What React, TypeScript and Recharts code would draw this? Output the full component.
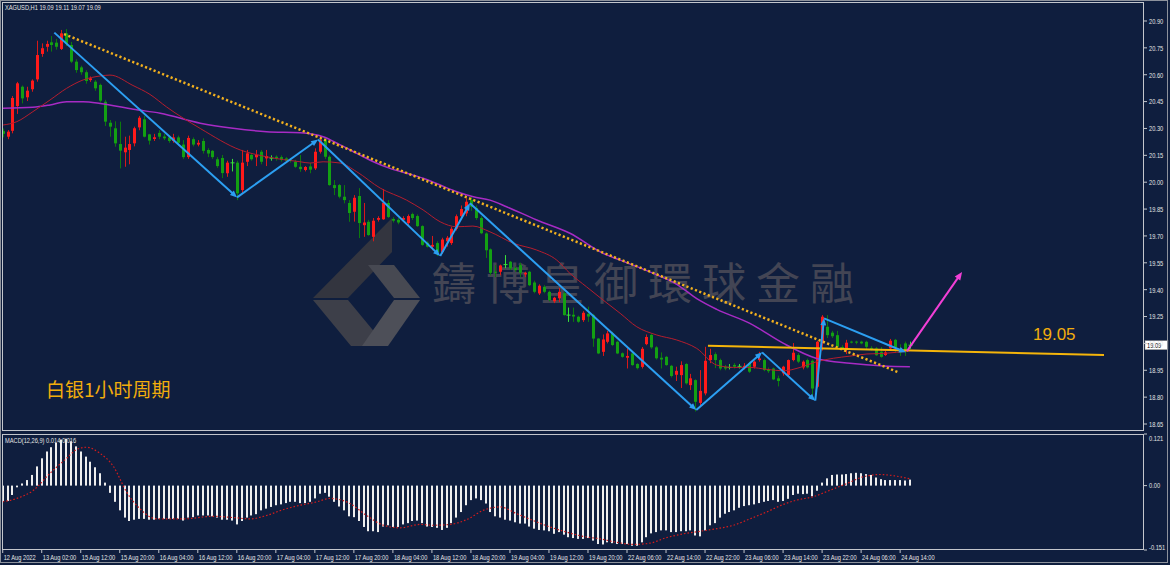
import React from 'react';
import { ComposedChart, Bar, Line, XAxis, YAxis, ReferenceLine } from 'recharts';

// ---------- data ----------
const OPEN = [20.285,20.254,20.287,20.425,20.533,20.474,20.519,20.574,20.716,20.756,20.781,20.779,20.744,20.831,20.766,20.673,20.641,20.614,20.570,20.561,20.543,20.449,20.332,20.301,20.213,20.167,20.180,20.217,20.306,20.351,20.267,20.241,20.275,20.255,20.250,20.230,20.250,20.210,20.140,20.240,20.210,20.230,20.180,20.175,20.128,20.135,20.050,20.108,20.109,19.956,20.114,20.152,20.139,20.170,20.133,20.134,20.142,20.140,20.133,20.125,20.114,20.086,20.068,20.088,20.077,20.170,20.235,20.142,19.984,19.984,19.919,19.884,19.835,19.923,19.760,19.779,19.695,19.790,19.793,19.884,19.795,19.790,19.790,19.772,19.822,19.811,19.755,19.662,19.640,19.660,19.610,19.670,19.660,19.740,19.810,19.826,19.900,19.856,19.800,19.714,19.625,19.500,19.500,19.540,19.556,19.520,19.537,19.485,19.500,19.440,19.379,19.416,19.388,19.335,19.352,19.380,19.258,19.260,19.249,19.230,19.265,19.258,19.127,19.053,19.109,19.156,19.109,19.045,19.020,19.044,18.985,18.969,19.096,19.147,19.078,19.020,19.025,18.975,18.925,18.923,18.985,18.867,18.895,18.768,18.821,19.007,19.040,19.007,18.970,18.966,18.980,18.972,18.965,18.990,18.970,19.007,19.007,18.955,18.960,18.905,18.933,18.923,19.007,19.035,18.966,19.007,19.003,18.858,19.100,19.193,19.160,19.146,19.080,19.063,19.110,19.110,19.110,19.109,19.075,19.072,19.053,19.035,19.072,19.120,19.060,19.100,19.090];
const HIGH = [20.300,20.291,20.481,20.560,20.540,20.533,20.574,20.790,20.775,20.790,20.816,20.800,20.850,20.855,20.783,20.686,20.650,20.625,20.590,20.570,20.550,20.460,20.347,20.340,20.338,20.254,20.260,20.310,20.370,20.370,20.270,20.270,20.290,20.270,20.260,20.270,20.260,20.235,20.260,20.250,20.235,20.245,20.190,20.180,20.140,20.152,20.120,20.130,20.120,20.180,20.180,20.160,20.180,20.180,20.180,20.150,20.150,20.150,20.140,20.135,20.125,20.152,20.090,20.107,20.189,20.258,20.250,20.150,20.012,19.990,19.984,19.900,19.928,19.967,19.884,19.790,19.800,19.810,19.962,19.900,19.805,19.800,19.810,19.820,19.830,19.820,19.760,19.670,19.700,19.670,19.690,19.700,19.750,19.820,19.870,19.910,19.919,19.870,19.810,19.720,19.630,19.537,19.540,19.593,19.560,19.530,19.550,19.500,19.505,19.450,19.430,19.425,19.395,19.360,19.410,19.390,19.300,19.300,19.255,19.280,19.305,19.265,19.130,19.150,19.170,19.165,19.115,19.050,19.072,19.050,18.990,19.080,19.150,19.155,19.085,19.050,19.030,18.980,18.970,19.000,18.990,18.930,18.900,18.951,19.081,19.070,19.050,19.015,18.980,18.985,18.990,18.985,18.990,18.998,19.005,19.053,19.015,18.965,18.965,18.920,18.975,19.010,19.102,19.045,19.005,19.015,19.010,19.115,19.258,19.258,19.170,19.170,19.090,19.120,19.115,19.115,19.115,19.115,19.085,19.080,19.080,19.060,19.125,19.125,19.095,19.110,19.110];
const LOW = [20.250,20.240,20.273,20.381,20.440,20.453,20.505,20.561,20.700,20.729,20.729,20.740,20.738,20.760,20.665,20.611,20.600,20.550,20.560,20.510,20.445,20.314,20.254,20.198,20.077,20.086,20.100,20.200,20.290,20.250,20.210,20.230,20.240,20.235,20.220,20.220,20.210,20.130,20.130,20.200,20.200,20.160,20.140,20.130,20.080,20.023,20.030,20.060,19.900,19.940,20.090,20.120,20.090,20.100,20.090,20.120,20.120,20.115,20.110,20.110,20.080,20.058,20.060,20.050,20.068,20.160,20.130,19.980,19.928,19.910,19.882,19.779,19.780,19.688,19.695,19.700,19.670,19.780,19.790,19.800,19.775,19.765,19.780,19.760,19.789,19.750,19.645,19.635,19.620,19.588,19.600,19.640,19.650,19.730,19.800,19.810,19.840,19.790,19.710,19.577,19.480,19.470,19.480,19.520,19.510,19.500,19.470,19.470,19.420,19.380,19.370,19.380,19.335,19.325,19.330,19.255,19.220,19.220,19.215,19.220,19.220,19.081,19.040,19.030,19.100,19.085,19.040,19.020,18.960,18.975,18.955,18.960,19.090,19.070,19.010,18.960,18.975,18.910,18.890,18.851,18.870,18.840,18.720,18.750,18.810,18.990,18.962,18.950,18.950,18.955,18.960,18.960,18.955,18.935,18.960,18.998,18.945,18.935,18.895,18.860,18.920,18.915,19.000,18.990,18.955,18.960,18.810,18.850,19.060,19.130,19.130,19.070,19.065,19.040,19.100,19.095,19.095,19.065,19.060,19.030,19.020,19.030,19.065,19.050,19.030,19.030,19.070];
const CLOSE = [20.270,20.282,20.470,20.552,20.468,20.511,20.567,20.710,20.748,20.772,20.766,20.756,20.831,20.772,20.673,20.626,20.614,20.565,20.580,20.524,20.455,20.338,20.310,20.217,20.176,20.193,20.213,20.301,20.360,20.254,20.232,20.251,20.254,20.245,20.230,20.250,20.220,20.140,20.247,20.210,20.220,20.175,20.160,20.140,20.090,20.051,20.109,20.108,19.938,20.109,20.161,20.128,20.152,20.114,20.146,20.134,20.133,20.125,20.120,20.120,20.086,20.073,20.085,20.070,20.170,20.235,20.142,19.984,19.967,19.919,19.900,19.828,19.913,19.772,19.775,19.705,19.785,19.800,19.885,19.806,19.785,19.775,19.800,19.811,19.800,19.755,19.650,19.640,19.650,19.610,19.680,19.690,19.740,19.810,19.850,19.891,19.863,19.800,19.715,19.620,19.494,19.496,19.535,19.540,19.519,19.510,19.494,19.494,19.425,19.388,19.422,19.388,19.342,19.355,19.388,19.258,19.258,19.250,19.221,19.271,19.250,19.127,19.044,19.122,19.156,19.091,19.044,19.025,19.030,18.979,18.962,19.070,19.136,19.078,19.017,19.010,18.979,18.918,18.947,18.979,18.877,18.905,18.774,18.835,19.003,19.035,19.007,18.960,18.960,18.966,18.970,18.972,18.975,18.942,18.998,19.016,18.951,18.945,18.899,18.890,18.970,19.007,19.048,18.998,18.998,18.966,18.848,19.109,19.249,19.146,19.140,19.081,19.075,19.104,19.105,19.105,19.100,19.081,19.070,19.034,19.025,19.050,19.115,19.078,19.050,19.055,19.090];
const MACD_HIST = [-0.036,-0.036,-0.022,-0.004,0.005,0.013,0.025,0.045,0.064,0.080,0.090,0.100,0.108,0.110,0.104,0.092,0.080,0.068,0.056,0.043,0.029,0.007,-0.017,-0.038,-0.058,-0.075,-0.083,-0.080,-0.078,-0.078,-0.080,-0.080,-0.078,-0.078,-0.078,-0.078,-0.078,-0.082,-0.075,-0.074,-0.070,-0.070,-0.070,-0.072,-0.075,-0.080,-0.080,-0.082,-0.091,-0.083,-0.075,-0.070,-0.067,-0.058,-0.054,-0.050,-0.046,-0.044,-0.041,-0.038,-0.038,-0.041,-0.041,-0.038,-0.030,-0.019,-0.017,-0.026,-0.038,-0.049,-0.058,-0.072,-0.074,-0.083,-0.097,-0.107,-0.107,-0.109,-0.096,-0.093,-0.097,-0.097,-0.091,-0.088,-0.083,-0.082,-0.088,-0.096,-0.097,-0.099,-0.104,-0.099,-0.088,-0.075,-0.062,-0.046,-0.034,-0.030,-0.034,-0.042,-0.062,-0.072,-0.075,-0.080,-0.082,-0.086,-0.089,-0.089,-0.096,-0.101,-0.104,-0.105,-0.107,-0.113,-0.109,-0.115,-0.121,-0.123,-0.125,-0.125,-0.123,-0.129,-0.137,-0.138,-0.133,-0.135,-0.137,-0.137,-0.137,-0.141,-0.141,-0.133,-0.121,-0.112,-0.109,-0.105,-0.105,-0.109,-0.109,-0.107,-0.107,-0.105,-0.117,-0.119,-0.105,-0.093,-0.088,-0.075,-0.066,-0.062,-0.058,-0.052,-0.048,-0.046,-0.044,-0.041,-0.038,-0.036,-0.034,-0.038,-0.036,-0.031,-0.022,-0.019,-0.020,-0.019,-0.025,-0.012,0.007,0.017,0.025,0.026,0.026,0.027,0.029,0.030,0.029,0.027,0.025,0.019,0.015,0.013,0.013,0.013,0.013,0.012,0.014];
const MACD_SIGNAL: [number, number][] = [[0,-0.038],[2.9,-0.030],[6.3,-0.011],[9.7,0.029],[13.1,0.064],[15.2,0.085],[17.2,0.090],[19.9,0.076],[22.7,0.045],[25.4,-0.015],[28.1,-0.054],[31.6,-0.078],[37,-0.078],[43.2,-0.072],[47.3,-0.075],[50.7,-0.078],[54.1,-0.070],[57.6,-0.056],[61,-0.046],[64.4,-0.038],[67.1,-0.030],[71.2,-0.042],[74.6,-0.070],[78.1,-0.093],[81.5,-0.099],[85.6,-0.091],[88.3,-0.093],[91.7,-0.091],[95.1,-0.080],[98.5,-0.058],[102,-0.050],[105.4,-0.066],[108.8,-0.082],[112.2,-0.097],[115.6,-0.109],[119,-0.119],[122.5,-0.125],[125.9,-0.133],[129.3,-0.138],[132.7,-0.135],[136.1,-0.122],[139.6,-0.113],[143,-0.107],[146.4,-0.101],[149.8,-0.093],[153.2,-0.078],[156.6,-0.062],[160.1,-0.044],[162.8,-0.034],[166.2,-0.026],[169.6,-0.011],[173.1,0.005],[176.5,0.021],[179.9,0.026],[183.3,0.022],[186,0.016]];
const MA_RED: [number, number][] = [[0,20.319],[2.9,20.338],[6.2,20.394],[9.7,20.459],[13.1,20.524],[16.5,20.571],[20,20.593],[22,20.598],[26.7,20.54],[30.2,20.49],[33.6,20.42],[40.5,20.30],[48.7,20.18],[54.1,20.142],[61,20.114],[63,20.107],[65.7,20.114],[69.2,20.107],[72.6,20.058],[77.4,19.967],[82.8,19.90],[86.2,19.845],[89.7,19.779],[93.1,19.751],[96.4,19.755],[99.9,19.723],[104.7,19.659],[109.5,19.621],[113.6,19.565],[116.3,19.491],[119.7,19.416],[123.1,19.342],[126.6,19.268],[130,19.193],[134.1,19.147],[138.2,19.119],[142.3,19.072],[146.4,18.979],[149.8,18.966],[153.2,18.966],[156.7,18.955],[160.1,18.947],[163.5,18.966],[166.9,18.998],[170.3,19.017],[173.7,19.029],[177.2,19.041],[180.6,19.044],[186,19.059]];
const MA_MAGENTA: [number, number][] = [[0,20.413],[6.2,20.418],[9.7,20.431],[13.1,20.449],[16.5,20.449],[20,20.44],[26.8,20.407],[32.3,20.385],[40.5,20.329],[47.2,20.301],[54.1,20.282],[61,20.276],[65.7,20.254],[69.2,20.208],[72.6,20.161],[76,20.114],[79.4,20.077],[82.8,20.05],[86.2,20.022],[89.7,19.984],[93.1,19.947],[96.5,19.919],[99.9,19.90],[103.3,19.863],[109.5,19.789],[116.3,19.715],[123.1,19.603],[126.6,19.565],[133.4,19.491],[138.2,19.43],[142.3,19.35],[146.4,19.29],[153.2,19.212],[160.1,19.10],[166.9,19.016],[173.7,18.989],[180.6,18.974],[186,18.97]];
const ZIGZAG: [number, number][] = [[10.58,20.835],[48.05,19.915],[64.65,20.238],[89.7,19.588],[95.8,19.882],[142.2,18.728],[155.7,19.05],[166.6,18.78],[168.4,19.24],[185.2,19.05]];
const PINK_ARROW: [number, number][] = [[185.4,19.057],[196.7,19.499]];
const DOTTED_TREND: [number, number][] = [[12.57,20.827],[183.8,18.937]];
const LEVEL_LINE: [number, number][] = [[144.6,19.087],[225.8,19.035]];
const PRICE_TICKS = [18.65,18.80,18.95,19.10,19.25,19.40,19.55,19.70,19.85,20.00,20.15,20.30,20.45,20.60,20.75,20.90];
const MACD_TICKS = [0.121, 0, -0.151];
const TIME_LABELS = ['12 Aug 2022','13 Aug 02:00','15 Aug 12:00','15 Aug 20:00','16 Aug 04:00','16 Aug 12:00','16 Aug 20:00','17 Aug 04:00','17 Aug 12:00','17 Aug 20:00','18 Aug 04:00','18 Aug 12:00','18 Aug 20:00','19 Aug 04:00','19 Aug 12:00','19 Aug 20:00','22 Aug 06:00','22 Aug 14:00','22 Aug 22:00','23 Aug 06:00','23 Aug 14:00','23 Aug 22:00','24 Aug 06:00','24 Aug 14:00'];
const BARS_PER_LABEL = 8;
const SYMBOL = 'XAGUSD,H1';
const MACD_NAME = 'MACD(12,26,9)';
const LEVEL_TEXT = '19.05';
const TITLE_TEXT = '白银1小时周期';
const WATERMARK = '鑄博皇御環球金融';

// ---------- derived tables ----------
const rows = OPEN.map((o, i) => ({ i, o, h: HIGH[i], l: LOW[i], c: CLOSE[i], m: MACD_HIST[i] }));
const pts = (arr: [number, number][]) => arr.map(([i, v]) => ({ i, v }));
const last = rows[rows.length - 1];
const fmt2 = (v: number) => v.toFixed(2);

// ---------- style ----------
const BG = '#0f1e3e';
const FRAME = '#c3c6cc';
const TXT = '#e4e4e4';
const MT_FONT = 'Liberation Sans, Arial, sans-serif';
const W = 1170;
const X_DOMAIN: [number, number] = [0.06, 234.0];
const PRICE_DOMAIN: [number, number] = [18.611, 21.006];
const MACD_DOMAIN: [number, number] = [-0.151, 0.121];

const SmallText = ({ x, y, children, anchor = 'start', fill = TXT }: any) => (
  <text transform={`translate(${x},${y}) scale(0.75,1)`} fontSize={7.6} fontFamily={MT_FONT} fill={fill}
    dominantBaseline="central" textAnchor={anchor}>{children}</text>
);

const Candle = (props: any) => {
  const { x, y, width, height, payload } = props;
  if (x == null || y == null || !payload) return null;
  const { o, h, l, c } = payload;
  const top = Math.min(y, y + height);
  const bot = Math.max(y, y + height);
  const span = h - l;
  const py = (v: number) => (span === 0 ? top : top + ((h - v) / span) * (bot - top));
  const cx = Math.round(x + width / 2) + 0.5;
  const flat = c === o;
  const up = c > o;
  const body = flat ? '#38e038' : up ? '#ff1a1a' : '#13a013';
  const wick = flat ? '#38e038' : up ? '#d81818' : '#0d7a0d';
  const yO = py(o);
  const yC = py(c);
  const bTop = Math.min(yO, yC);
  const bH = Math.max(1, Math.abs(yO - yC));
  return (
    <g>
      <line x1={cx} x2={cx} y1={top} y2={bot} stroke={wick} strokeWidth={1} />
      {flat ? (
        <line x1={cx - 2} x2={cx + 2} y1={yO} y2={yO} stroke={body} strokeWidth={1} />
      ) : (
        <rect x={cx - 1.5} y={bTop} width={3} height={bH} fill={body} />
      )}
    </g>
  );
};

const HistBar = (props: any) => {
  const { x, y, width, height } = props;
  if (x == null || y == null) return null;
  const cx = Math.round(x + width / 2);
  const top = Math.min(y, y + height);
  const h = Math.max(0.8, Math.abs(height));
  return <rect x={cx - 1} y={top} width={2} height={h} fill="#eeeeee" />;
};

const arrowShape = (color: string, width: number, head: number, dash?: string, withHead = true) => (p: any) => {
  const { x1, y1, x2, y2 } = p;
  if ([x1, y1, x2, y2].some((v) => v == null || Number.isNaN(v))) return <g />;
  const a = Math.atan2(y2 - y1, x2 - x1);
  const hx = x2 - head * Math.cos(a);
  const hy = y2 - head * Math.sin(a);
  const w = head * 0.42;
  const px = -Math.sin(a) * w;
  const py = Math.cos(a) * w;
  const ex = withHead ? x2 - head * 0.6 * Math.cos(a) : x2;
  const ey = withHead ? y2 - head * 0.6 * Math.sin(a) : y2;
  return (
    <g>
      <line x1={x1} y1={y1} x2={ex} y2={ey} stroke={color} strokeWidth={width} strokeDasharray={dash} />
      {withHead && <polygon points={`${x2},${y2} ${hx + px},${hy + py} ${hx - px},${hy - py}`} fill={color} />}
    </g>
  );
};

const PriceTick = (props: any) => {
  const { x, y, payload } = props;
  return <SmallText x={x} y={y}>{fmt2(payload.value)}</SmallText>;
};

const MacdTick = (props: any) => {
  const { x, y, payload } = props;
  const v = payload.value;
  const dy = v > 0.1 ? 4 : v < -0.1 ? -3 : 0;
  const label = v === 0 ? '0.00' : v.toFixed(3);
  return <SmallText x={x} y={y + dy}>{label}</SmallText>;
};

const TimeTick = (props: any) => {
  const { x, y, payload } = props;
  const label = TIME_LABELS[Math.round(payload.value / BARS_PER_LABEL)];
  return <SmallText x={x + 1} y={y + 3}>{label}</SmallText>;
};

const LastPriceTag = (p: any) => {
  const { x1, x2, y1 } = p;
  if (x1 == null || x2 == null || y1 == null) return <g />;
  const xr = Math.max(x1, x2);
  return (
    <g>
      <rect x={xr + 1} y={y1 - 4.5} width={23} height={9} fill="#ffffff" stroke="#888" strokeWidth={0.5} />
      <SmallText x={xr + 3} y={y1} fill="#000">{fmt2(last.c)}</SmallText>
    </g>
  );
};

const zigSegments = ZIGZAG.slice(1).map((p, k) => [ZIGZAG[k], p]);

export default function App() {
  return (
    <div style={{ position: 'fixed', left: 0, top: 0, width: W, height: 565, background: BG, overflow: 'hidden' }}>
      {/* watermark */}
      <svg width={W} height={565} style={{ position: 'absolute', left: 0, top: 0 }}>
        <polygon points="313,298 392,218 392,252 348,298" fill="#33353f" />
        <polygon points="313,300 348,300 386,346 351,346" fill="#3d3f49" />
        <polygon points="368,265 394,265 420,298 394,298" fill="#474952" />
        <polygon points="394,300 420,300 388,346 362,346" fill="#4d4f58" />
        <text x={432} y={300} fontSize={44} letterSpacing={10} fill="#434554"
          fontFamily="Noto Sans CJK TC, Noto Sans CJK SC, sans-serif">{WATERMARK}</text>
      </svg>

      {/* main price panel */}
      <div style={{ position: 'absolute', left: 0, top: 0 }}>
        <ComposedChart width={W} height={433} data={rows} margin={{ top: 2, right: 0, bottom: 2, left: 3 }}>
          <XAxis type="number" dataKey="i" domain={X_DOMAIN} allowDataOverflow hide />
          <YAxis orientation="right" width={26} domain={PRICE_DOMAIN} allowDataOverflow ticks={PRICE_TICKS}
            interval={0} tick={<PriceTick />} tickSize={3} tickMargin={2} axisLine={false}
            tickLine={{ stroke: FRAME }} />
          <Line data={pts(MA_MAGENTA)} dataKey="v" type="monotone" stroke="#a72bc4" strokeWidth={1.5} dot={false} isAnimationActive={false} />
          <Line data={pts(MA_RED)} dataKey="v" type="monotone" stroke="#b51d2e" strokeWidth={1} dot={false} isAnimationActive={false} />
          <Bar dataKey={(d: any) => [d.l, d.h]} barSize={3} shape={<Candle />} isAnimationActive={false} />
          <ReferenceLine ifOverflow="visible" segment={[{ x: DOTTED_TREND[0][0], y: DOTTED_TREND[0][1] }, { x: DOTTED_TREND[1][0], y: DOTTED_TREND[1][1] }]}
            shape={arrowShape('#f2b01e', 2.5, 0, '2.2 2.4', false)} />
          <ReferenceLine ifOverflow="visible" segment={[{ x: LEVEL_LINE[0][0], y: LEVEL_LINE[0][1] }, { x: LEVEL_LINE[1][0], y: LEVEL_LINE[1][1] }]}
            shape={arrowShape('#f5b50a', 2, 0, undefined, false)} />
          {zigSegments.map(([a, b], k) => (
            <ReferenceLine key={k} ifOverflow="visible" segment={[{ x: a[0], y: a[1] }, { x: b[0], y: b[1] }]}
              shape={arrowShape('#2c9ff2', 2, 7)} />
          ))}
          <ReferenceLine ifOverflow="visible" segment={[{ x: PINK_ARROW[0][0], y: PINK_ARROW[0][1] }, { x: PINK_ARROW[1][0], y: PINK_ARROW[1][1] }]}
            shape={arrowShape('#f23fd6', 2, 8)} />
          <ReferenceLine ifOverflow="visible" y={last.c} shape={LastPriceTag} />
        </ComposedChart>
      </div>

      {/* MACD panel */}
      <div style={{ position: 'absolute', left: 0, top: 432 }}>
        <ComposedChart width={W} height={133} data={rows} margin={{ top: 2, right: 0, bottom: 0, left: 3 }}>
          <XAxis type="number" dataKey="i" domain={X_DOMAIN} allowDataOverflow height={15}
            ticks={TIME_LABELS.map((_, k) => k * BARS_PER_LABEL)} interval={0} tick={<TimeTick />}
            tickSize={3} tickMargin={1} axisLine={false} tickLine={{ stroke: FRAME }} />
          <YAxis orientation="right" width={26} domain={MACD_DOMAIN} allowDataOverflow ticks={MACD_TICKS}
            interval={0} tick={<MacdTick />} tickSize={3} tickMargin={2} axisLine={false}
            tickLine={{ stroke: FRAME }} />
          <Bar dataKey="m" barSize={2} shape={<HistBar />} isAnimationActive={false} />
          <Line data={pts(MACD_SIGNAL)} dataKey="v" type="monotone" stroke="#d21c1c" strokeWidth={1.2}
            strokeDasharray="1.6 2" dot={false} isAnimationActive={false} />
        </ComposedChart>
      </div>

      {/* panel frames */}
      <div style={{ position: 'absolute', left: 0, top: 0, width: 1168, height: 563, border: '1px solid #8d929c', boxSizing: 'border-box', pointerEvents: 'none' }} />
      <div style={{ position: 'absolute', left: 2, top: 2, width: 1142, height: 429, border: `1px solid ${FRAME}`, boxSizing: 'border-box', pointerEvents: 'none' }} />
      <div style={{ position: 'absolute', left: 2, top: 434, width: 1142, height: 116, border: `1px solid ${FRAME}`, boxSizing: 'border-box', pointerEvents: 'none' }} />

      {/* texts */}
      <svg width={W} height={565} style={{ position: 'absolute', left: 0, top: 0, pointerEvents: 'none' }}>
        <SmallText x={5} y={7}>{`${SYMBOL}  ${fmt2(last.o)} ${fmt2(last.h)} ${fmt2(last.l)} ${fmt2(last.c)}`}</SmallText>
        <SmallText x={5} y={440}>{`${MACD_NAME} ${MACD_HIST[MACD_HIST.length - 1].toFixed(3)} ${MACD_SIGNAL[MACD_SIGNAL.length - 1][1].toFixed(3)}`}</SmallText>
        <text x={1033} y={340} fontSize={17} fill="#f2ad0c" fontFamily="Liberation Sans, Arial, sans-serif">{LEVEL_TEXT}</text>
        <text x={46} y={397} fontSize={19} fill="#f2ad0c" fontFamily="Noto Sans CJK SC, sans-serif">{TITLE_TEXT}</text>
      </svg>
    </div>
  );
}
